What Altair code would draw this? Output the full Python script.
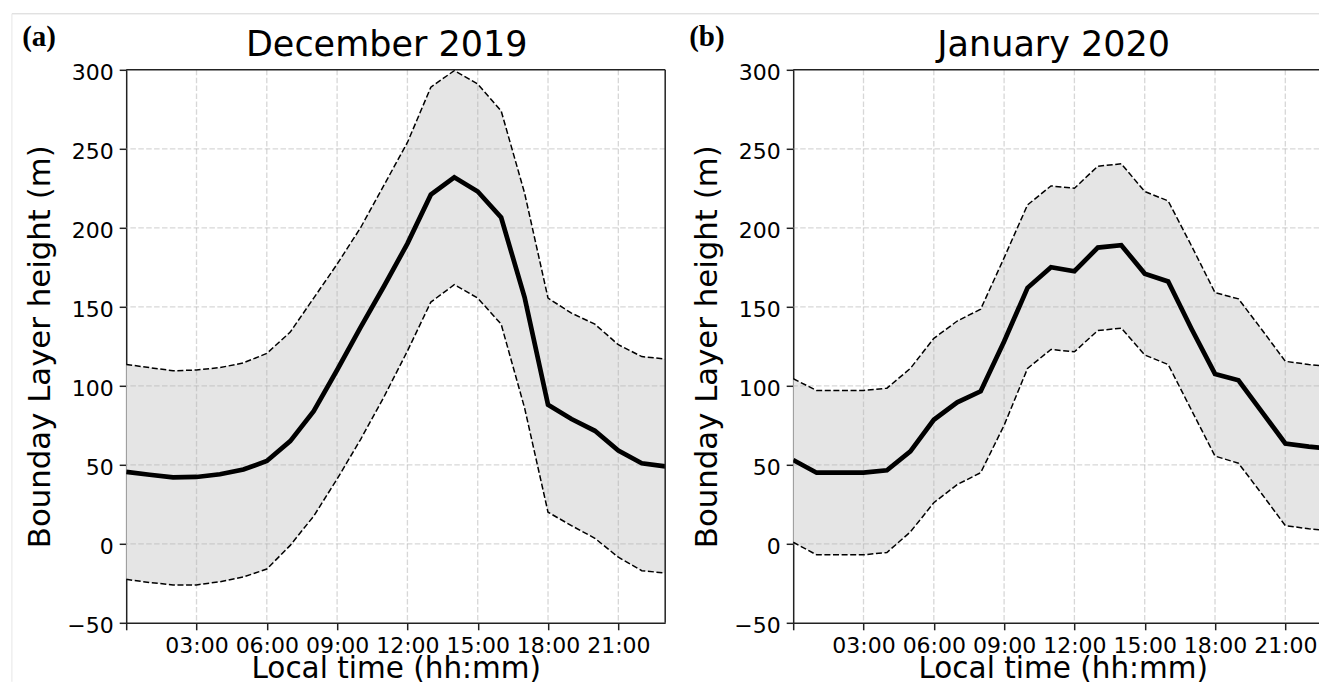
import altair as alt
import pandas as pd

hours = list(range(24))

dec_mean = [45.5, 43.7, 42, 42.3, 44, 47, 52.4, 65, 84, 110, 137, 163, 190, 221, 232, 223, 206.5, 156, 88, 79, 71.5, 59, 51, 49]
dec_upper = [113.5, 111.5, 109.5, 110, 111.5, 114.5, 120.5, 134, 155.5, 177, 200, 227, 254, 289, 299.5, 291, 274, 222, 155.5, 146, 139, 126, 118.5, 117]
dec_lower = [-22.5, -24.5, -26, -26, -24, -21, -16, -1, 17.5, 41, 66, 93, 122, 153, 164, 155.5, 139, 86, 20, 11.5, 3.5, -8.5, -17, -18.5]

jan_mean = [53, 45, 45, 45, 46.5, 58.5, 78.5, 89.5, 96.5, 128, 162, 175, 172.5, 187.5, 189, 171, 166, 136, 107.5, 103.5, 83.5, 63.5, 61.5, 60]
jan_upper = [104.5, 97, 97, 97, 98.5, 111, 130, 141, 148.5, 181, 214.5, 226.5, 225, 239, 240.5, 223, 217, 188.5, 159, 155, 135.5, 115.5, 113.5, 112]
jan_lower = [1, -7, -7, -7, -5.5, 7.5, 26, 37.5, 45, 75, 111, 123, 121.5, 135, 136.5, 119.5, 113.5, 84.5, 55.5, 51, 31.5, 11.5, 9.5, 8]

x_ticks = [0, 3, 6, 9, 12, 15, 18, 21]
x_grid = [3, 6, 9, 12, 15, 18, 21]
y_ticks = [-50, 0, 50, 100, 150, 200, 250, 300]
y_grid = [0, 50, 100, 150, 200, 250]
y_top = [300]
x_end = [23]

titles = ["December 2019", "January 2020"]
panel_tags = ["(a)", "(b)"]

PX_PER_HOUR = 539 / 23
H = 553
FONT = "DejaVu Sans"
INK = "#222222"
ys = alt.Scale(domain=[-50, 300], nice=False, zero=False)


def make_axes(title_x):
    kw = {}
    if title_x is not None:
        kw["titleX"] = title_x
    x_axis = alt.Axis(
        values=x_ticks, title="Local time (hh:mm)", grid=False, domain=True,
        domainColor=INK, domainWidth=1.5,
        labelExpr="datum.value == 0 ? '' : (datum.value < 10 ? '0' : '') + datum.value + ':00'",
        labelFontSize=22, labelFont=FONT, labelColor="black", labelPadding=5.6, labelFlush=False,
        labelOverlap=False, tickSize=7, tickWidth=1.5, tickColor=INK,
        titleFontSize=29.5, titleFont=FONT, titleFontWeight="normal", titleColor="black",
        titleBaseline="alphabetic", titleY=55.2, **kw,
    )
    y_axis = alt.Axis(
        values=y_ticks, title="Bounday Layer height (m)", grid=False, domain=True,
        domainColor=INK, domainWidth=1.5,
        labelFontSize=22, labelFont=FONT, labelColor="black", labelPadding=6, labelFlush=False,
        labelBaseline="middle", labelOffset=3, labelOverlap=False,
        tickSize=7, tickWidth=1.5, tickColor=INK,
        titleFontSize=30.8, titleFont=FONT, titleFontWeight="normal", titleColor="black",
        titlePadding=11,
    )
    return x_axis, y_axis


def panel(mean, upper, lower, title, tag, width, xmax, with_frame, title_x):
    xs = alt.Scale(domain=[0, xmax], nice=False, zero=False)
    x_axis, y_axis = make_axes(title_x)
    X = lambda f: alt.X(f, scale=xs, axis=x_axis)
    Y = lambda f: alt.Y(f, scale=ys, axis=y_axis)
    df = pd.DataFrame({"hour": hours, "mean": mean, "upper": upper, "lower": lower})
    base = alt.Chart(df)
    band = base.mark_area(color="#e5e5e5", opacity=1, clip=True).encode(
        x=X("hour:Q"), y=Y("lower:Q"), y2="upper:Q"
    )
    grid_style = dict(color="#b0b0b0", strokeOpacity=0.5, strokeWidth=1.3, strokeDash=[5.5, 2.4])
    gx = alt.Chart(pd.DataFrame({"hour": x_grid})).mark_rule(**grid_style).encode(x=X("hour:Q"))
    gy = alt.Chart(pd.DataFrame({"lower": y_grid})).mark_rule(**grid_style).encode(y=Y("lower:Q"))
    up = base.mark_line(color="black", strokeWidth=1.5, strokeDash=[6, 2.6], clip=True).encode(
        x=X("hour:Q"), y=Y("upper:Q")
    )
    lo = base.mark_line(color="black", strokeWidth=1.5, strokeDash=[6, 2.6], clip=True).encode(
        x=X("hour:Q"), y=Y("lower:Q")
    )
    mn = base.mark_line(color="black", strokeWidth=4.7, clip=True).encode(
        x=X("hour:Q"), y=Y("mean:Q")
    )
    spine_top = alt.Chart(pd.DataFrame({"lower": y_top})).mark_rule(color=INK, strokeWidth=1.5).encode(
        y=Y("lower:Q")
    )
    ttl = alt.Chart(pd.DataFrame({"t": [title]})).mark_text(
        font=FONT, fontSize=35, align="center", baseline="alphabetic", color="black"
    ).encode(text="t:N", x=alt.value(539 / 2 - 9), y=alt.value(-14.3))
    tg = alt.Chart(pd.DataFrame({"t": [tag]})).mark_text(
        font="Liberation Serif", fontSize=29, fontWeight="bold", align="left",
        baseline="alphabetic", color="black"
    ).encode(text="t:N", x=alt.value(-104), y=alt.value(-23.5))
    layers = [band, gx, gy, up, lo, mn, spine_top]
    if with_frame:
        spine_right = alt.Chart(pd.DataFrame({"hour": x_end})).mark_rule(
            color=INK, strokeWidth=1.5
        ).encode(x=X("hour:Q"))
        top = alt.Chart(pd.DataFrame({"t": [0]})).mark_rule(color="#d4d4d4", strokeWidth=1).encode(
            x=alt.value(-114.3), x2=alt.value(1193), y=alt.value(-56)
        )
        left = alt.Chart(pd.DataFrame({"t": [0]})).mark_rule(color="#e6e6e6", strokeWidth=1).encode(
            x=alt.value(-114.3), y=alt.value(-56), y2=alt.value(612)
        )
        layers += [spine_right, top, left]
    layers += [ttl, tg]
    return alt.layer(*layers).properties(width=width, height=H)


W_LEFT = 539
W_RIGHT = 526
left_panel = panel(dec_mean, dec_upper, dec_lower, titles[0], panel_tags[0], W_LEFT, 23, True, None)
right_panel = panel(jan_mean, jan_upper, jan_lower, titles[1], panel_tags[1], W_RIGHT,
                    W_RIGHT / PX_PER_HOUR, False, 539 / 2)

chart = (
    alt.hconcat(left_panel, right_panel, spacing=128, bounds="flush")
    .properties(padding={"left": 3.2, "top": 4.8, "right": -1.5, "bottom": 1.5})
    .configure(font=FONT)
    .configure_view(stroke=None)
)

chart.save("out.html", embed_options={"renderer": "svg", "actions": False})
